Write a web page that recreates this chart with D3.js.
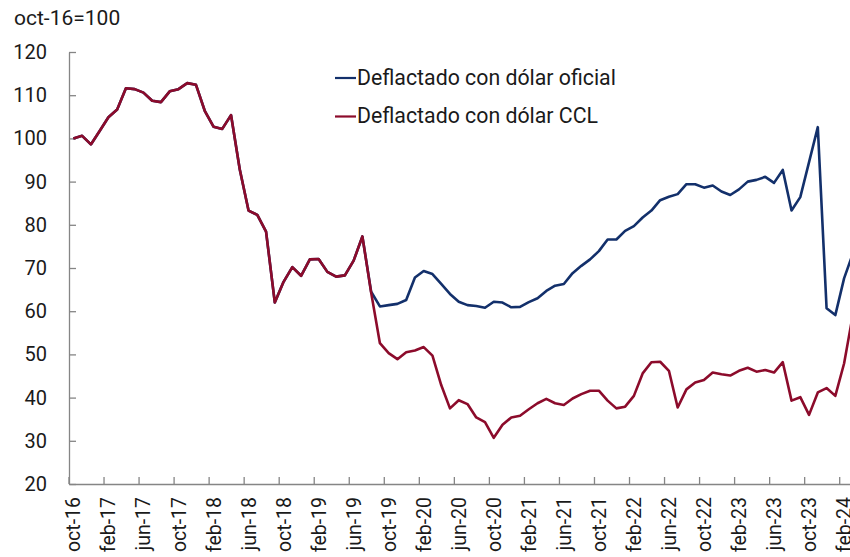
<!DOCTYPE html>
<html>
<head>
<meta charset="utf-8">
<script src="https://cdn.jsdelivr.net/npm/d3@7"></script>
<style>
  html, body { margin: 0; padding: 0; background: #fff; }
  svg { display: block; }
  text { font-family: Roboto, "Noto Sans", sans-serif; fill: #1a1a1a; }
</style>
</head>
<body>
<svg id="chart" width="850" height="557"></svg>
<script>
// Monthly categories, oct-16 .. mar-24
const months = [
  "oct-16","nov-16","dic-16",
  "ene-17","feb-17","mar-17","abr-17","may-17","jun-17","jul-17","ago-17","sep-17","oct-17","nov-17","dic-17",
  "ene-18","feb-18","mar-18","abr-18","may-18","jun-18","jul-18","ago-18","sep-18","oct-18","nov-18","dic-18",
  "ene-19","feb-19","mar-19","abr-19","may-19","jun-19","jul-19","ago-19","sep-19","oct-19","nov-19","dic-19",
  "ene-20","feb-20","mar-20","abr-20","may-20","jun-20","jul-20","ago-20","sep-20","oct-20","nov-20","dic-20",
  "ene-21","feb-21","mar-21","abr-21","may-21","jun-21","jul-21","ago-21","sep-21","oct-21","nov-21","dic-21",
  "ene-22","feb-22","mar-22","abr-22","may-22","jun-22","jul-22","ago-22","sep-22","oct-22","nov-22","dic-22",
  "ene-23","feb-23","mar-23","abr-23","may-23","jun-23","jul-23","ago-23","sep-23","oct-23","nov-23","dic-23",
  "ene-24","feb-24","mar-24"
];

// Index deflated with the official exchange rate (oct-16 = 100)
const oficial = [
  100.0, 100.6, 98.6,
  101.7, 104.9, 106.7, 111.6, 111.4, 110.6, 108.7, 108.4, 110.9, 111.4, 112.8, 112.4,
  106.4, 102.7, 102.2, 105.4, 92.8, 83.3, 82.3, 78.4, 62.0, 66.8, 70.2, 68.2,
  72.0, 72.1, 69.1, 68.0, 68.3, 71.7, 77.3, 64.5, 61.1, 61.4, 61.7, 62.6,
  67.8, 69.3, 68.6, 66.3, 64.0, 62.2, 61.4, 61.2, 60.8, 62.2, 62.0, 60.9,
  61.0, 62.1, 63.0, 64.7, 65.9, 66.3, 68.8, 70.5, 72.0, 73.9, 76.6, 76.6,
  78.6, 79.7, 81.7, 83.3, 85.7, 86.5, 87.1, 89.4, 89.4, 88.6, 89.1, 87.7,
  86.9, 88.2, 90.0, 90.4, 91.1, 89.7, 92.7, 83.3, 86.4, 94.5, 102.6, 60.7,
  59.1, 67.6, 73.3
];

// Index deflated with the CCL exchange rate (oct-16 = 100)
const ccl = [
  100.0, 100.6, 98.6,
  101.7, 104.9, 106.7, 111.6, 111.4, 110.6, 108.7, 108.4, 110.9, 111.4, 112.8, 112.4,
  106.4, 102.7, 102.2, 105.4, 92.8, 83.3, 82.3, 78.4, 62.0, 66.8, 70.2, 68.2,
  72.0, 72.1, 69.1, 68.0, 68.3, 71.7, 77.3, 64.3, 52.6, 50.3, 48.9, 50.5,
  50.9, 51.7, 49.7, 42.9, 37.5, 39.4, 38.5, 35.4, 34.3, 30.7, 33.7, 35.4,
  35.8, 37.3, 38.7, 39.7, 38.7, 38.3, 39.8, 40.8, 41.6, 41.6, 39.3, 37.5,
  37.9, 40.4, 45.6, 48.2, 48.3, 46.2, 37.7, 41.9, 43.5, 44.1, 45.8, 45.4,
  45.1, 46.2, 46.9, 46.0, 46.4, 45.8, 48.2, 39.3, 40.1, 36.0, 41.2, 42.2,
  40.4, 47.9, 59.2
];

const xTickLabels = [
  "oct-16","feb-17","jun-17","oct-17","feb-18","jun-18","oct-18","feb-19",
  "jun-19","oct-19","feb-20","jun-20","oct-20","feb-21","jun-21","oct-21",
  "feb-22","jun-22","oct-22","feb-23","jun-23","oct-23","feb-24"
];
const yTickValues = [20, 30, 40, 50, 60, 70, 80, 90, 100, 110, 120];

const seriesNames = ["Deflactado con dólar oficial", "Deflactado con dólar CCL"];
const seriesColors = ["#13306b", "#8c0b2b"];

(function draw() {
  const svg = d3.select("#chart");
  svg.append("rect").attr("width", 850).attr("height", 557).attr("fill", "#fff");

  const plotLeft = 69, plotTop = 52, plotBottom = 484;
  const step = 8.758;
  const x = d3.scaleBand()
    .domain(months)
    .range([plotLeft, plotLeft + step * months.length])
    .paddingInner(0).paddingOuter(0);
  const y = d3.scaleLinear().domain([20, 120]).range([plotBottom, plotTop]);
  const bw = x.bandwidth();

  const axisColor = "#858585";

  // Y axis with inward ticks
  const yAxis = svg.append("g")
    .attr("transform", `translate(${plotLeft},0)`)
    .call(d3.axisLeft(y).tickValues(yTickValues).tickSizeInner(-7).tickSizeOuter(0).tickPadding(22));
  yAxis.select(".domain").attr("stroke", axisColor).attr("stroke-width", 1.3);
  yAxis.selectAll(".tick line").attr("stroke", axisColor).attr("stroke-width", 1.3);
  yAxis.selectAll(".tick text")
    .attr("font-size", 20).attr("fill", "#1a1a1a")
    .style("font-family", "Roboto, sans-serif");

  // X axis: ticks on category boundaries, labels on category centres
  const xAxis = svg.append("g")
    .attr("transform", `translate(0,${plotBottom})`)
    .call(d3.axisBottom(x).tickValues(xTickLabels).tickSizeInner(-7).tickSizeOuter(0));
  xAxis.select(".domain").attr("stroke", axisColor).attr("stroke-width", 1.3);
  xAxis.selectAll(".tick line")
    .attr("x1", -bw / 2).attr("x2", -bw / 2)
    .attr("stroke", axisColor).attr("stroke-width", 1.3);
  xAxis.selectAll(".tick text")
    .attr("transform", "rotate(-90)")
    .attr("x", -13).attr("y", 0).attr("dy", "0.36em")
    .attr("text-anchor", "end")
    .attr("font-size", 19.5).attr("fill", "#1a1a1a")
    .style("font-family", "Roboto, sans-serif");

  // Lines
  const line = d3.line()
    .x((d, i) => x(months[i]) + bw / 2)
    .y(d => y(d));

  [oficial, ccl].forEach((vals, k) => {
    svg.append("path")
      .datum(vals)
      .attr("fill", "none")
      .attr("stroke", seriesColors[k])
      .attr("stroke-width", 2.6)
      .attr("stroke-linejoin", "round")
      .attr("d", line);
  });

  // Unit label
  svg.append("text")
    .attr("x", 14).attr("y", 25)
    .attr("font-size", 21)
    .text("oct-16=100");

  // Legend
  seriesNames.forEach((name, k) => {
    const ly = 78 + k * 38.5;
    svg.append("line")
      .attr("x1", 335).attr("x2", 356)
      .attr("y1", ly).attr("y2", ly)
      .attr("stroke", seriesColors[k]).attr("stroke-width", 2.2);
    svg.append("text")
      .attr("x", 357).attr("y", ly + 6.5)
      .attr("font-size", 21.3)
      .text(name);
  });
})();
</script>
</body>
</html>
